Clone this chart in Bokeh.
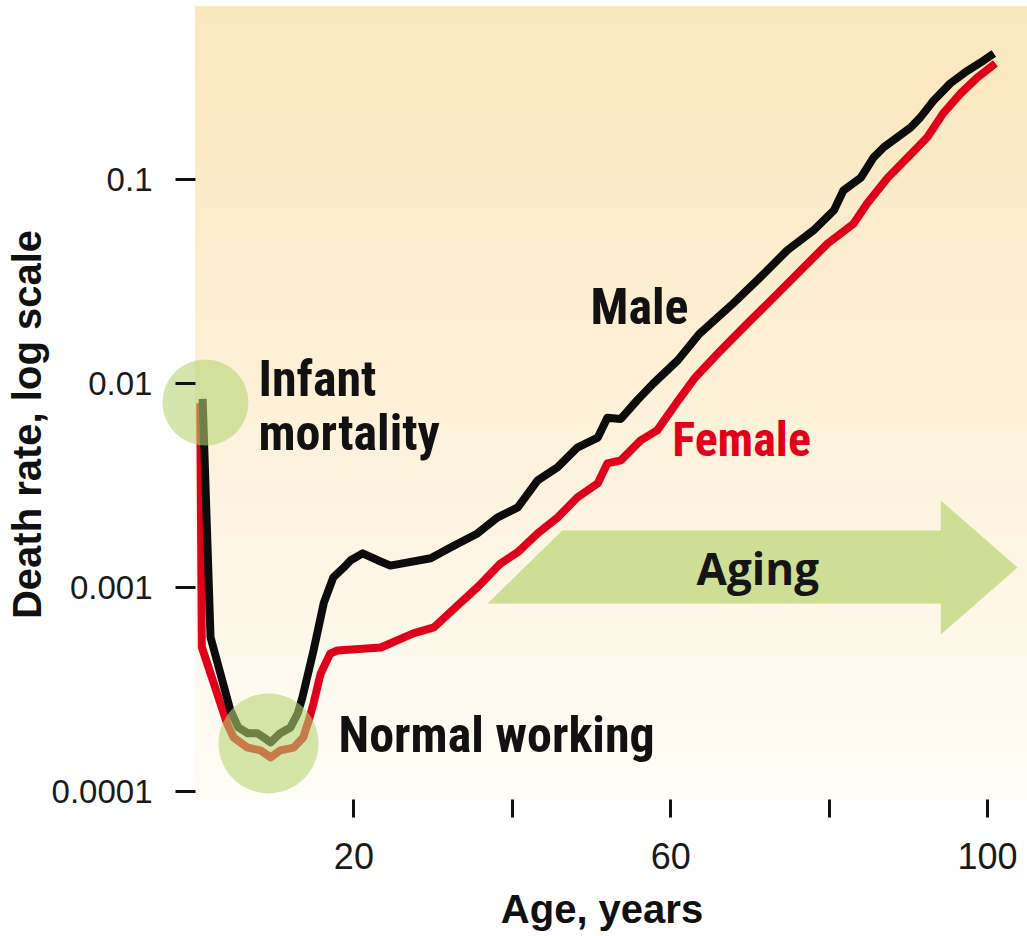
import numpy as np
from bokeh.plotting import figure
from bokeh.models import (Range1d, LinearAxis, LogAxis, FixedTicker,
                          CustomJSTickFormatter)
from bokeh.core.properties import value
from bokeh.embed import file_html
from bokeh.resources import INLINE

# ---------------- data ----------------
male_age = [0.9, 1.9, 4.4, 5.4, 6.6, 7.8, 8.6, 9.5, 10.7, 12.0, 12.9, 13.5,
            14.9, 16.2, 17.4, 18.7, 19.6, 21.1, 23.0, 24.6, 29.7, 32.2, 35.6,
            38.1, 40.7, 43.2, 45.7, 48.2, 50.8, 52.0, 53.7, 55.8, 57.8, 60.9,
            63.6, 67.9, 71.3, 74.7, 78.0, 80.6, 81.8, 84.0, 85.6, 86.9, 90.3,
            91.5, 93.2, 95.3, 97.5, 99.5, 100.8]
male_rate = [0.0084, 0.00057, 0.00025, 0.000206, 0.000193, 0.000193, 0.000184,
             0.000174, 0.000193, 0.000206, 0.000241, 0.000289, 0.00049, 0.00084,
             0.00112, 0.00125, 0.00136, 0.00147, 0.00136, 0.00128, 0.00139,
             0.00157, 0.00184, 0.0022, 0.00247, 0.00335, 0.00388, 0.00485,
             0.00543, 0.0068, 0.0067, 0.0083, 0.0100, 0.0130, 0.0175, 0.0247,
             0.0331, 0.0449, 0.0562, 0.0705, 0.0883, 0.102, 0.128, 0.144, 0.180,
             0.201, 0.244, 0.296, 0.342, 0.383, 0.415]

female_age = [0.6, 0.8, 4.0, 4.8, 6.6, 8.2, 9.5, 10.7, 12.4, 13.6, 14.3, 14.9,
              15.8, 17.0, 17.9, 23.4, 27.5, 30.1, 33.1, 35.8, 38.5, 40.7, 43.2,
              45.7, 48.2, 50.8, 52.0, 53.7, 56.2, 58.3, 60.9, 63.1, 66.3, 69.7,
              73.0, 76.4, 79.8, 83.1, 84.8, 87.4, 89.9, 92.4, 94.4, 96.6, 98.7,
              101.0]
female_rate = [0.0080, 0.00051, 0.000215, 0.000184, 0.000164, 0.000159,
               0.000147, 0.000159, 0.000164, 0.000184, 0.000223, 0.00027,
               0.000378, 0.000474, 0.000491, 0.000508, 0.000596, 0.000637,
               0.000817, 0.00102, 0.00131, 0.00149, 0.00184, 0.0022, 0.00276,
               0.00324, 0.00406, 0.0042, 0.00526, 0.00589, 0.0082, 0.0107,
               0.0145, 0.0197, 0.0264, 0.0358, 0.0485, 0.0608, 0.0762, 0.102,
               0.128, 0.161, 0.211, 0.264, 0.316, 0.371]

x_ticks = [20, 40, 60, 80, 100]
x_tick_labels = ["20", "", "60", "", "100"]
y_ticks = [0.0001, 0.001, 0.01, 0.1]
y_tick_labels = ["0.0001", "0.001", "0.01", "0.1"]

x_title = "Age, years"
y_title = "Death rate, log scale"

# annotations: text, age, rate
label_text = ["Infant", "mortality", "Normal working", "Male"]
label_age = [7.95, 7.95, 18.06, 49.87]
label_rate = [0.01057, 0.00569, 0.0001902, 0.02383]
female_label = "Female"
female_label_pos = (60.2, 0.005315)

highlight_age = [1.26, 9.22]
highlight_rate = [0.00807, 0.000172]
highlight_size = [86, 100]

arrow_age = [36.9, 46.3, 94.1, 94.1, 103.8, 94.1, 94.1]
arrow_rate = [10 ** -3.078, 10 ** -2.721, 10 ** -2.721, 10 ** -2.574,
              10 ** -2.902, 10 ** -3.230, 10 ** -3.078]
arrow_text = "Aging"
arrow_text_pos = (71.0, 0.00124)

COND = value("'Roboto Condensed', 'DejaVu Sans Condensed', 'Liberation Sans', sans-serif")

# ---------------- figure ----------------
X0, X1 = -24.62, 105.05
LY0, LY1 = -4.711, -0.1225
p = figure(width=1027, height=936, output_backend="svg", toolbar_location=None,
           x_range=Range1d(X0, X1), y_range=Range1d(10 ** LY0, 10 ** LY1),
           y_axis_type="log", x_axis_location=None, y_axis_location=None,
           min_border=0, min_border_left=0, min_border_right=0,
           min_border_top=0, min_border_bottom=0)
p.grid.visible = False
p.outline_line_color = None
p.background_fill_color = "white"
p.border_fill_color = "white"

# gradient background panel
n = 90
edges = np.linspace(-0.152, -4.044, n + 1)
top_c = np.array([251, 231, 191])
bot_c = np.array([255, 253, 247])
cols = []
for i in range(n):
    t = (i / (n - 1)) ** 1.15
    c = (top_c * (1 - t) + bot_c * t).round().astype(int)
    cols.append("#%02x%02x%02x" % tuple(c))
p.quad(left=0, right=X1, top=10 ** edges[:-1], bottom=10 ** edges[1:],
       fill_color=cols, line_color=cols, line_width=1)

# aging arrow
p.patch(arrow_age, arrow_rate, fill_color="#CEDF95", line_color=None)
p.text(x=[arrow_text_pos[0]], y=[arrow_text_pos[1]], text=[arrow_text],
       text_font=value("Open Sans"), text_font_style="bold",
       text_font_size="44px", text_color="#151515", text_align="center",
       text_baseline="alphabetic")

# curves
p.line(female_age, female_rate, line_color="#E1001A", line_width=8,
       line_join="round", line_cap="butt")
p.line(male_age, male_rate, line_color="#0c0c0c", line_width=8,
       line_join="round", line_cap="butt")

# highlight circles
p.scatter(x=highlight_age, y=highlight_rate, size=highlight_size,
          marker="circle", fill_color="#B5D470", fill_alpha=0.58,
          line_color=None)

# labels
p.text(x=label_age, y=label_rate, text=label_text,
       text_font=COND, text_font_style="bold",
       text_font_size="50px", text_color="#111111", text_align="left",
       text_baseline="alphabetic")
p.text(x=[female_label_pos[0]], y=[female_label_pos[1]], text=[female_label],
       text_font=COND, text_font_style="bold",
       text_font_size="48px", text_color="#E1001A", text_align="left",
       text_baseline="alphabetic")

# axes
lookup_code = """
const i = tvals.findIndex(t => Math.abs(t - tick) <= 1e-6 * Math.abs(t));
return i >= 0 ? tlabs[i] : '';
"""
yaxis = LogAxis(fixed_location=0,
                ticker=FixedTicker(ticks=y_ticks),
                formatter=CustomJSTickFormatter(
                    args=dict(tvals=y_ticks, tlabs=y_tick_labels),
                    code=lookup_code),
                axis_label=y_title,
                bounds=(10 ** -4.04, 10 ** -0.362))
xaxis = LinearAxis(fixed_location=10 ** -4.039,
                   ticker=FixedTicker(ticks=x_ticks),
                   formatter=CustomJSTickFormatter(
                       args=dict(tvals=x_ticks, tlabs=x_tick_labels),
                       code=lookup_code),
                   axis_label=x_title,
                   bounds=(0, 102.6))

for ax, lab_size, tick_out, standoff, title_standoff in (
        (yaxis, "33px", 20, 23, 0), (xaxis, "36px", 18, 26, 14)):
    ax.axis_line_color = None
    ax.major_tick_line_color = "#111111"
    ax.major_tick_line_width = 3
    ax.major_tick_in = 0
    ax.major_tick_out = tick_out
    ax.minor_tick_line_color = None
    ax.major_label_standoff = standoff
    ax.major_label_text_font = "Liberation Sans"
    ax.major_label_text_font_size = lab_size
    ax.major_label_text_color = "#1a1a1a"
    ax.axis_label_text_font = "Liberation Sans"
    ax.axis_label_text_font_style = "bold"
    ax.axis_label_text_font_size = "40px"
    ax.axis_label_text_color = "#111111"
    ax.axis_label_standoff = title_standoff

p.add_layout(yaxis, "left")
p.add_layout(xaxis, "below")

open("out.html", "w").write(file_html(p, INLINE))
